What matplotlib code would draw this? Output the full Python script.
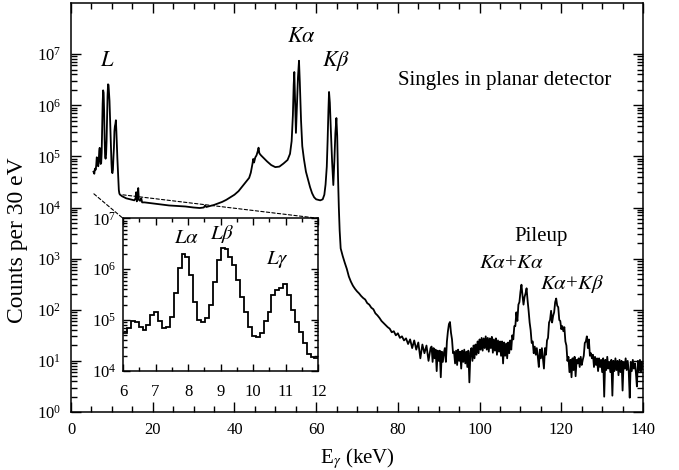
import numpy as np
import matplotlib
matplotlib.use('Agg')
import matplotlib.pyplot as plt
from matplotlib.patches import ConnectionPatch
from matplotlib.ticker import FixedLocator, MultipleLocator, NullFormatter

plt.rcParams['font.family'] = ['Liberation Serif', 'DejaVu Serif']
plt.rcParams['mathtext.fontset'] = 'stix'

# Вставка: L-линии, бины по 0.12 кэВ от 6 до 12 кэВ
inset_edges = np.linspace(6, 12, 51)
inset_counts = [5.5e4, 6.9e4, 9.6e4, 9.0e4, 7.4e4, 6.4e4, 8.0e4, 1.26e5, 1.47e5, 9.6e4,
                7.1e4, 7.4e4, 1.17e5, 3.4e5, 1.07e6, 1.96e6, 1.76e6, 7.7e5, 2.23e5, 1.0e5,
                9.0e4, 1.08e5, 1.98e5, 5.7e5, 1.52e6, 2.57e6, 2.5e6, 1.76e6, 1.21e6, 6.1e5,
                2.9e5, 1.47e5, 7.4e4, 4.9e4, 4.7e4, 5.5e4, 9.6e4, 1.47e5, 3.1e5, 3.9e5,
                4.3e5, 5.1e5, 3.1e5, 1.58e5, 9.3e4, 5.9e4, 3.5e4, 2.2e4, 1.9e4, 1.8e4]

# Основной спектр: энергия (кэВ) и log10 отсчетов
low_e = [5.5, 5.7, 5.85]
low_log = [4.70, 4.66, 4.76]

mid_e = [12.2, 12.5, 13.0, 13.5, 14.0, 14.5, 15.0, 15.5, 15.8, 15.95,
         16.1, 16.3, 16.45, 16.6, 16.9, 17.2, 17.4, 18.0, 19.0, 20.0,
         22.0, 24.0, 26.0, 28.0, 30.0, 31.5, 32.5, 32.8, 33.1, 34.0,
         35.0, 36.0, 37.0, 38.0, 39.0, 40.0, 41.0, 42.0, 43.0, 43.6,
         44.0, 44.4, 44.6, 44.8, 45.1, 45.4, 45.7, 45.9, 46.1, 46.5,
         47.0, 48.0, 49.0, 50.0, 51.0, 52.0, 53.0, 53.6, 54.0, 54.3,
         54.5, 54.65, 54.8, 55.05, 55.3, 55.55, 55.8, 56.0, 56.3, 56.6,
         57.0, 57.5, 58.0, 58.5, 59.0, 59.5, 60.0, 61.0, 61.6, 62.0,
         62.3, 62.6, 62.8, 63.0, 63.15, 63.35, 63.6, 63.9, 64.2, 64.45,
         64.7, 64.95, 65.15, 65.35, 65.55, 65.75]
mid_log = [4.24, 4.22, 4.20, 4.18, 4.17, 4.16, 4.15, 4.14, 4.18, 4.30,
           4.12, 4.22, 4.38, 4.15, 4.13, 4.18, 4.10, 4.10, 4.09, 4.08,
           4.06, 4.04, 4.03, 4.02, 4.00, 3.99, 4.00, 4.04, 4.01, 4.03,
           4.05, 4.08, 4.11, 4.15, 4.20, 4.25, 4.32, 4.42, 4.52, 4.58,
           4.68, 4.85, 4.95, 4.88, 4.98, 5.02, 5.10, 5.17, 5.06, 5.02,
           4.98, 4.90, 4.83, 4.79, 4.80, 4.86, 4.93, 5.05, 5.30, 5.80,
           6.40, 6.65, 6.20, 5.46, 6.00, 6.55, 6.87, 6.45, 5.70, 5.20,
           4.95, 4.70, 4.55, 4.40, 4.28, 4.20, 4.16, 4.14, 4.16, 4.25,
           4.45, 4.80, 5.30, 5.90, 6.26, 6.05, 5.50, 4.90, 4.44, 4.90,
           5.45, 5.75, 5.40, 4.60, 4.00, 3.55]

# Хвост: 66-88 кэВ шаг 0.5, 88.25-140 кэВ шаг 0.25
tail_e = np.concatenate([np.arange(66.0, 88.01, 0.5), np.arange(88.25, 140.01, 0.25)])
tail_log = [3.20, 3.05, 2.92, 2.80, 2.65, 2.55, 2.47, 2.41, 2.36, 2.32,
            2.27, 2.23, 2.20, 2.13, 2.10, 2.04, 2.01, 1.93, 1.89, 1.84,
            1.78, 1.74, 1.70, 1.66, 1.63, 1.56, 1.58, 1.50, 1.54, 1.45,
            1.48, 1.40, 1.44, 1.33, 1.42, 1.25, 1.40, 1.22, 1.36, 1.05,
            1.32, 1.15, 1.30, 1.00, 1.25,
            # 88.25 - 140
            1.28, 0.98, 1.25, 1.05,  1.22, 0.80, 1.20, 1.00,  1.20, 0.68, 1.18, 0.98,
            1.15, 1.25, 0.98, 1.38,  1.58, 1.72, 1.76, 1.55,  1.42, 1.15, 1.18, 0.95,
            1.20, 0.92, 1.22, 1.00,  1.18, 0.85, 1.20, 0.98,  1.22, 0.95, 1.18, 0.88,
            1.20, 0.58, 1.15, 1.25,  1.00, 1.30, 1.05, 1.32,  1.12, 1.38, 1.15, 1.42,
            1.22, 1.45, 1.20, 1.44,  1.25, 1.48, 1.22, 1.45,  1.18, 1.44, 1.25, 1.47,
            1.16, 1.42, 1.20, 1.44,  1.12, 1.40, 1.18, 1.38,  1.10, 1.38, 0.95, 1.36,
            1.10, 1.34, 1.05, 1.36,  1.15, 1.40, 1.22, 1.50,  1.42, 1.68, 1.68, 1.95,
            1.78, 2.10, 2.15, 2.35,  2.49, 2.28, 2.10, 2.25,  2.32, 2.42, 2.18, 1.98,
            1.75, 1.60, 1.35, 1.38,  1.15, 1.28, 1.12, 1.25,  1.08, 0.88, 1.22, 1.05,
            1.25, 1.05, 0.85, 1.25,  1.12, 1.40, 1.45, 1.75,  1.80, 1.98, 1.75, 1.88,
            1.95, 2.15, 2.22, 2.08,  2.05, 1.80, 1.78, 1.62,  1.68, 1.58, 1.66, 1.38,
            1.30, 1.00, 1.08, 0.78,  1.02, 0.68, 1.05, 0.82,  1.08, 0.70, 1.02, 0.95,
            1.05, 0.88, 1.08, 0.92,  1.02, 1.10, 1.35, 1.38,  1.48, 1.25, 1.42, 1.10,
            1.15, 1.05, 1.12, 0.88,  1.08, 0.92, 1.05, 0.80,  1.05, 0.88, 1.02, 0.78,
            1.05, 0.30, 1.02, 0.82,  1.08, 0.85, 0.98, 0.78,  1.02, 0.32, 1.00, 0.80,
            1.05, 0.82, 1.00, 0.72,  1.02, 0.78, 1.00, 0.42,  0.98, 0.85, 1.05, 0.82,
            1.00, 0.80, 0.28, 0.98,  0.80, 1.02, 0.85, 0.95,  0.78, 0.50, 1.00, 0.80,
            1.02, 0.78, 0.98, 0.85]

# Собираем спектр целиком (в области 6-12 кэВ берем данные вставки)
inset_centers = inset_edges[:-1] + 0.06
spec_e = np.concatenate([low_e, inset_centers, mid_e, tail_e])
spec_counts = np.concatenate([10.0 ** np.array(low_log), inset_counts,
                              10.0 ** np.array(mid_log), 10.0 ** np.array(tail_log)])

fig = plt.figure(figsize=(6.79, 4.70), dpi=100)
ax = fig.add_axes([0.1046, 0.1234, 0.8424, 0.8702])
ax.plot(spec_e, spec_counts, color='black', lw=1.3)
ax.set_yscale('log')
ax.set_xlim(0, 140)
ax.set_ylim(1, 1e8)
ax.xaxis.set_major_locator(MultipleLocator(20))
ax.xaxis.set_minor_locator(MultipleLocator(5))
ax.yaxis.set_major_locator(FixedLocator([10.0 ** k for k in range(8)]))
ax.yaxis.set_minor_locator(FixedLocator([m * 10.0 ** k for k in range(7) for m in range(2, 10)]))
ax.yaxis.set_minor_formatter(NullFormatter())
ax.tick_params(which='both', direction='in', top=True, right=True, labelsize=12, pad=7, width=1)
ax.tick_params(which='major', length=7)
ax.tick_params(which='minor', length=4)
for s in ax.spines.values():
    s.set_linewidth(1.1)

ax.set_xlabel(r'E$_\gamma$ (keV)', fontsize=15, labelpad=6)
ax.set_ylabel('Counts per 30 eV', fontsize=17)
ax.yaxis.set_label_coords(-0.075, 0.42)

# Подписи линий
ax.text(8.8, 10 ** 6.85, '$L$', fontsize=16, ha='center', va='center')
ax.text(56.5, 10 ** 7.33, r'$K\alpha$', fontsize=16, ha='center', va='center')
ax.text(65.0, 10 ** 6.87, r'$K\beta$', fontsize=16, ha='center', va='center')
ax.text(106.2, 10 ** 6.48, 'Singles in planar detector', fontsize=15, ha='center', va='center')
ax.text(115.0, 10 ** 3.44, 'Pileup', fontsize=15, ha='center', va='center')
ax.text(107.7, 10 ** 2.9, r'$K\alpha$+$K\alpha$', fontsize=15, ha='center', va='center')
ax.text(122.7, 10 ** 2.5, r'$K\alpha$+$K\beta$', fontsize=15, ha='center', va='center')

# Вставка
axins = fig.add_axes([0.1811, 0.2106, 0.2877, 0.3249])
axins.stairs(inset_counts, inset_edges, baseline=None, color='black', lw=1.3)
axins.set_yscale('log')
axins.set_xlim(6, 12)
axins.set_ylim(1e4, 1e7)
axins.xaxis.set_major_locator(MultipleLocator(1))
axins.xaxis.set_minor_locator(MultipleLocator(0.5))
axins.yaxis.set_major_locator(FixedLocator([1e4, 1e5, 1e6, 1e7]))
axins.yaxis.set_minor_locator(FixedLocator([m * 10.0 ** k for k in range(4, 7) for m in range(2, 10)]))
axins.yaxis.set_minor_formatter(NullFormatter())
axins.tick_params(which='both', direction='in', top=True, right=True, labelsize=12, width=1)
axins.tick_params(axis='x', pad=9)
axins.tick_params(axis='y', pad=5)
axins.tick_params(which='major', length=5)
axins.tick_params(which='minor', length=3)
for s in axins.spines.values():
    s.set_linewidth(1.1)

axins.text(7.94, 10 ** 6.61, r'$L\alpha$', fontsize=15, ha='center', va='center')
axins.text(9.04, 10 ** 6.69, r'$L\beta$', fontsize=15, ha='center', va='center')
axins.text(10.73, 10 ** 6.2, r'$L\gamma$', fontsize=15, ha='center', va='center')

# Пунктир от области спектра к углам вставки
for xy_main, xy_ins in [((5.6, 1.85e4), (0, 1)), ((12.7, 1.77e4), (1, 1))]:
    con = ConnectionPatch(xyA=xy_main, coordsA=ax.transData, xyB=xy_ins,
                          coordsB=axins.transAxes, ls=(0, (3, 2)), lw=0.8, color='black')
    fig.add_artist(con)

fig.savefig('out.png', dpi=100)
print('saved out.png')
